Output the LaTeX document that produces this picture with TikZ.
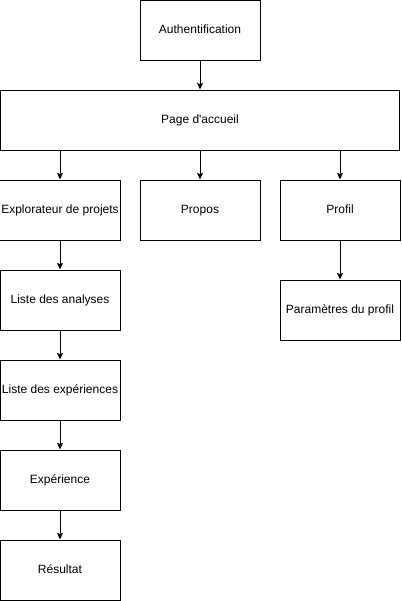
\documentclass[tikz,border=0pt]{standalone}
\usepackage{fontspec}
\setmainfont{Liberation Sans}
\usetikzlibrary{arrows.meta}

\tikzset{
	page/.style={draw, line width=0.75pt, fill=white, minimum width=90pt, minimum height=45pt, inner sep=1pt, text height=7.8pt, text depth=2pt, font=\fontsize{9}{11}\selectfont},
	lien/.style={-{Stealth[length=5pt,width=4.5pt,inset=1pt]}, line width=0.75pt}
}

\begin{document}
\begin{tikzpicture}[x=0.75pt, y=-0.75pt]
	\useasboundingbox (0,0) rectangle (401,601);
	\node [page] (auth) at (200,30) {Authentification};
	\node [page, minimum width=299pt] (accueil) at (200,120) {Page d\textquotesingle accueil};
	\node [page] (explorateur) at (60,210) {Explorateur de projets};
	\node [page] (propos) at (200,210) {Propos};
	\node [page] (profil) at (340,210) {Profil};
	\node [page] (parametres) at (340,310) {Paramètres du profil};
	\node [page] (analyses) at (60,300) {Liste des analyses};
	\node [page] (experiences) at (60,390) {Liste des expériences};
	\node [page] (experience) at (60,480) {Expérience};
	\node [page] (resultat) at (60,570) {Résultat};

	\draw [lien] (auth) -- (accueil);
	\draw [lien] (accueil.south -| explorateur) -- (explorateur);
	\draw [lien] (accueil.south -| propos) -- (propos);
	\draw [lien] (accueil.south -| profil) -- (profil);
	\draw [lien] (profil) -- (parametres);
	\draw [lien] (explorateur) -- (analyses);
	\draw [lien] (analyses) -- (experiences);
	\draw [lien] (experiences) -- (experience);
	\draw [lien] (experience) -- (resultat);
\end{tikzpicture}
\end{document}
